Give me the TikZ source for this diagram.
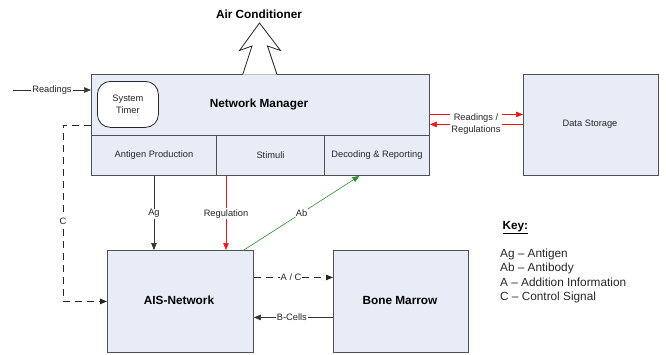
\documentclass[tikz,border=0pt]{standalone}
\usepackage{fontspec}
\setmainfont{Liberation Sans}
\usetikzlibrary{arrows.meta,calc}
\definecolor{boxfill}{RGB}{232,236,247}
\definecolor{boxline}{RGB}{80,80,80}
\definecolor{arrgreen}{RGB}{50,140,50}
\definecolor{arrred}{RGB}{240,20,20}
\tikzset{
  box/.style={draw=boxline, fill=boxfill, line width=0.9pt, inner sep=0pt, anchor=north west},
  big/.style={font=\fontsize{11.8}{14}\selectfont\bfseries},
  small/.style={font=\fontsize{9.3}{11.5}\selectfont, text=black!85},
  lbl/.style={small, fill=white, inner sep=1pt},
  tip/.style={-{Triangle[length=7pt,width=5.5pt]}},
  conn/.style={line width=0.6pt, draw=black!80},
}
\begin{document}
\begin{tikzpicture}[x=1pt,y=-1pt]
\useasboundingbox (0,0) rectangle (666,354);
% boxes
\node[box, minimum width=338pt, minimum height=61pt] (nm) at (91,74) {};
\node[box, minimum width=125pt, minimum height=40pt] (ap) at (91,135) {};
\node[box, minimum width=108pt, minimum height=40pt] (st) at (216,135) {};
\node[box, minimum width=105pt, minimum height=40pt] (dec) at (324,135) {};
\node[box, minimum width=135pt, minimum height=101pt] (ds) at (523,74) {};
\node[box, minimum width=146pt, minimum height=102pt] (ais) at (107,250) {};
\node[box, minimum width=135pt, minimum height=102pt] (bm) at (333,250) {};
\node[draw=black!85, fill=white, line width=0.8pt, rounded corners=13pt, minimum width=61pt, minimum height=46pt, inner sep=0pt, anchor=north west, small, align=center] (timer) at (97,81) {System\\Timer};
% texts
\node[big] (nmt) at (259,104) {Network Manager};
\node[small] (apt) at (ap.center) {Antigen Production};
\node[small] (stt) at (st.center) {Stimuli};
\node[small] (dect) at (dec.center) {Decoding \& Reporting};
\node[small] (dst) at (590,124) {Data Storage};
\node[big] (aist) at (179,300) {AIS-Network};
\node[big] (bmt) at (400,300) {Bone Marrow};
\node[big] (act) at (259,14) {Air Conditioner};
% air conditioner arrow
\draw[line width=0.8pt, fill=white, draw=black!85] (242.7,74.5) -- (252,46) -- (239.5,50.5) -- (259.5,23) -- (280.5,50.5) -- (267.5,46) -- (277,74.5);
% readings in
\coordinate (rin) at (13,90);
\draw[conn, tip] (rin) -- (nm.west |- rin) node[lbl, midway] {Readings};
% C dashed
\coordinate (c1) at ([yshift=-20.5pt]nm.west);
\draw[line width=1pt, black!85, dash pattern=on 7pt off 5pt, -{Triangle[length=7pt,width=5.5pt]}] (c1) -- ++(-28,0) coordinate (c2) -- (c2 |- ais.west) node[lbl, pos=0.545] {C} -- (ais.west);
% Ag
\draw[conn, tip] (ap.south) -- (ap.south |- ais.north) node[lbl, pos=0.51] {Ag};
% Regulation
\draw[line width=0.6pt, arrred, -{Triangle[length=7pt,width=5.5pt]}] (st.south -| 226,0) -- (226,250) node[lbl, pos=0.51] {Regulation};
% Ab
\draw[line width=0.6pt, arrgreen, -{Triangle[length=7pt,width=5.5pt]}] ([xshift=-10pt]ais.north east) -- ([xshift=-17.5pt]dec.south) node[lbl, pos=0.5, text=black!85] {Ab};
% A/C
\draw[line width=0.8pt, black!85, dash pattern=on 7pt off 5pt, -{Triangle[length=7pt,width=5.5pt]}] ([yshift=24pt]ais.east) -- ([yshift=24pt]bm.west) node[lbl, pos=0.47] {A / C};
% B-Cells
\draw[conn, tip] ([yshift=-16pt]bm.west) -- ([yshift=-16pt]ais.east) node[lbl, pos=0.52] {B-Cells};
% Readings / Regulations
\draw[line width=0.6pt, arrred, -{Triangle[length=7pt,width=5.5pt]}] ([yshift=-9.5pt]nm.east) -- ([yshift=10.5pt]ds.west);
\draw[line width=0.6pt, arrred, -{Triangle[length=7pt,width=5.5pt]}] ([yshift=0.5pt]ds.west) -- ([yshift=-19.5pt]nm.east);
\node[small, fill=white, inner sep=1pt, align=center] (rr) at (476,124) {Readings /\\Regulations};
% key
\node[anchor=west, font=\fontsize{11.8}{14}\selectfont\bfseries] (key) at (499,228) {\underline{Key:}};
\node[anchor=north west, align=left, inner sep=0pt, text=black!85, font=\fontsize{11.8}{14.2}\selectfont] (keyl) at (500,249) {Ag – Antigen\\Ab – Antibody\\A – Addition Information\\C – Control Signal};
\end{tikzpicture}
\end{document}
